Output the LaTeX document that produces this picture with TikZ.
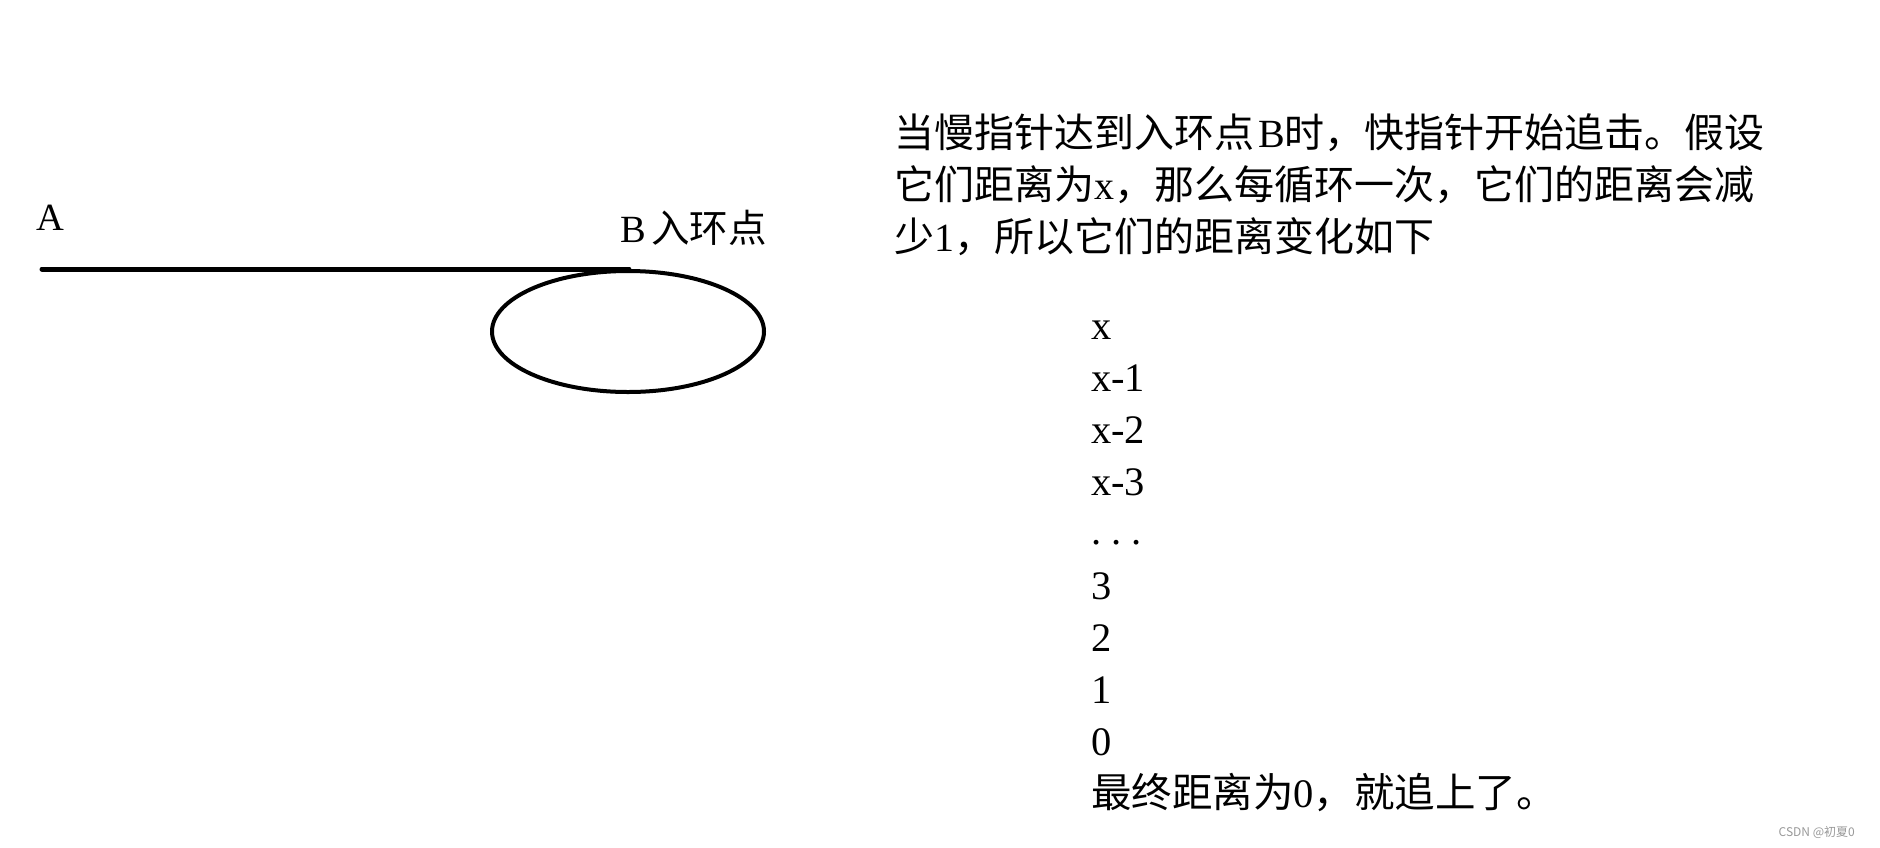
\documentclass[tikz,border=0pt]{standalone}
\usepackage{fontspec}
\setmainfont{Liberation Serif}
\newfontfamily\cjk{Noto Sans CJK SC}
\usetikzlibrary{shapes.geometric}
\begin{document}
\begin{tikzpicture}[x=1pt,y=-1pt,
  txt/.style={anchor=base west, inner sep=0pt, outer sep=0pt, font=\fontsize{40}{52}\selectfont},
  lst/.style={anchor=base west, inner sep=0pt, outer sep=0pt, font=\fontsize{40.5}{52}\selectfont},
  lbl/.style={anchor=base west, inner sep=0pt, outer sep=0pt, font=\fontsize{38.5}{46}\selectfont},
  track/.style={line width=5pt, line cap=round},
  loopst/.style={draw, ellipse, line width=4pt, inner sep=0pt, outer sep=0pt}]
\useasboundingbox[fill=white] (0,0) rectangle (1880,847);
% diagram
\coordinate (A0) at (42,269);
\coordinate (B0) at (629,269);
\draw[track] (A0) -- (B0);
\node[loopst, minimum width=272pt, minimum height=121pt] (loop) at (628,331.5) {};
\node[lbl] (la) at (36,230) {A};
\node[lbl] (lb) at (620,242) {\makebox[31pt][l]{B}{\cjk 入环点}};
% paragraph
\node[txt] (p1) at (894,147) {{\cjk 当慢指针达到入环点}\hspace{4pt}B{\cjk 时，快指针开始追击。假设}};
\node[txt] (p2) at (894,199) {{\cjk 它们距离为}x{\cjk ，那么每循环一次，它们的距离会减}};
\node[txt] (p3) at (894,251) {{\cjk 少}1{\cjk ，所以它们的距离变化如下}};
% list
\node[lst] (l0) at (1091,339) {x};
\node[lst] (l1) at (1091,391) {x-1};
\node[lst] (l2) at (1091,443) {x-2};
\node[lst] (l3) at (1091,495) {x-3};
\node[lst] (l4) at (1091,544) {\makebox[0.5em][l]{.}\makebox[0.5em][l]{.}\makebox[0.5em][l]{.}};
\node[lst] (l5) at (1091,599) {3};
\node[lst] (l6) at (1091,651) {2};
\node[lst] (l7) at (1091,703) {1};
\node[lst] (l8) at (1091,755) {0};
\node[lst] (l9) at (1091,807) {{\cjk 最终距离为}0{\cjk ，就追上了。}};
% watermark
\node[anchor=base east, inner sep=0pt, font=\cjk\fontsize{12}{14}\selectfont, text=black!40] (wm) at (1855,836) {CSDN @初夏0};
\end{tikzpicture}
\end{document}
